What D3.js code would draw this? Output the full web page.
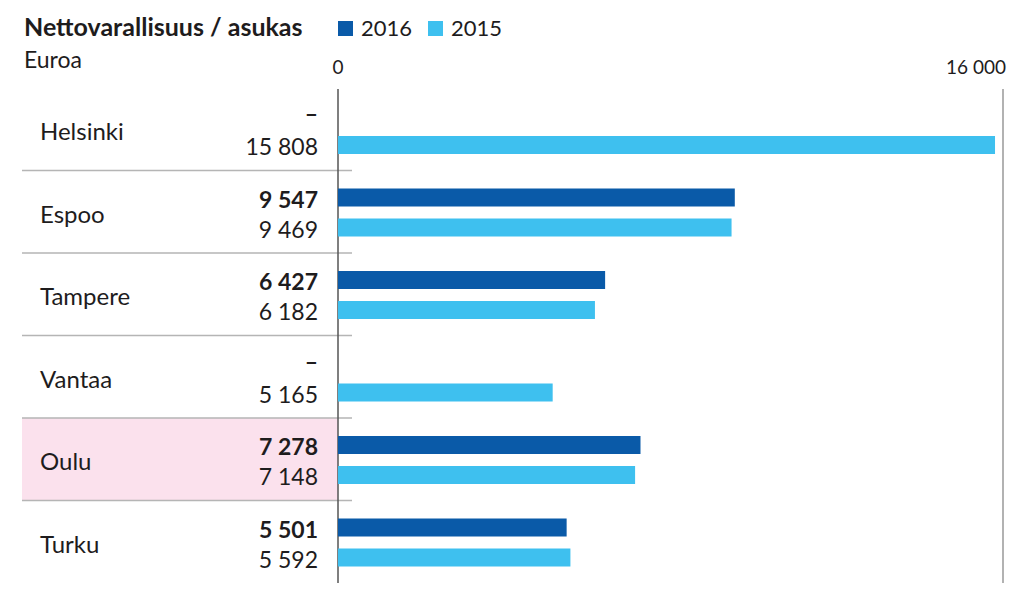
<!DOCTYPE html>
<html><head><meta charset="utf-8">
<script src="https://cdn.jsdelivr.net/npm/d3@7"></script>
<style>body{margin:0;background:#fff}svg{display:block}text{font-family:Lato,"Open Sans",sans-serif;fill:#1e1c1d}</style>
</head><body>
<script>
const cities = ["Helsinki","Espoo","Tampere","Vantaa","Oulu","Turku"];
const values2016 = [null,9547,6427,null,7278,5501];
const values2015 = [15808,9469,6182,5165,7148,5592];
const seriesNames = ["2016","2015"];
const tickValues = [0,16000];
const tickLabels = ["0","16 000"];
const highlighted = "Oulu";

const W=1024,H=597;
const svg=d3.select("body").append("svg").attr("width",W).attr("height",H);
const x=d3.scaleLinear().domain([0,16000]).range([338,1003]);
const y=d3.scaleBand().domain(cities).range([88,583]);
const colors={"2016":"#0a5aa8","2015":"#3ec0ef"};
const fmt=v=>v==null?"–":d3.format(",")(v).replace(/,/g," ");

// highlight
svg.append("rect").attr("x",22).attr("width",x(0)-22)
  .attr("y",y(highlighted)).attr("height",y.bandwidth()).attr("fill","#fbe1ed");

// separators
svg.selectAll("line.sep").data(cities.slice(1)).join("line")
  .attr("x1",22).attr("x2",352).attr("y1",d=>y(d)).attr("y2",d=>y(d))
  .attr("stroke","#b5b5b5").attr("stroke-width",1.5);

// axis lines
svg.append("line").attr("x1",x(0)).attr("x2",x(0)).attr("y1",89).attr("y2",583).attr("stroke","#555").attr("stroke-width",1.5);
svg.append("line").attr("x1",x(16000)).attr("x2",x(16000)).attr("y1",89).attr("y2",583).attr("stroke","#999").attr("stroke-width",1.5);

// ticks labels
svg.selectAll("text.tick").data(tickValues).join("text")
  .attr("x",(d,i)=>i==0?x(d):x(d)+3).attr("y",74)
  .attr("text-anchor",(d,i)=>i==0?"middle":"end")
  .attr("font-size",19).text((d,i)=>tickLabels[i]);

// bars
const rows=cities.map((c,i)=>({c,v16:values2016[i],v15:values2015[i]}));
const g=svg.selectAll("g.row").data(rows).join("g").attr("transform",d=>`translate(0,${y(d.c)})`);
g.filter(d=>d.v16!=null).append("rect").attr("x",x(0)).attr("y",18).attr("height",18)
  .attr("width",d=>x(d.v16)-x(0)).attr("fill",colors["2016"]);
g.append("rect").attr("x",x(0)).attr("y",48).attr("height",18)
  .attr("width",d=>x(d.v15)-x(0)).attr("fill",colors["2015"]);
g.append("text").attr("x",40).attr("y",52).attr("font-size",24).text(d=>d.c);
g.append("text").attr("x",318).attr("y",d=>d.v16==null?34:37).attr("text-anchor","end")
  .attr("font-size",23).attr("font-weight","bold").text(d=>fmt(d.v16));
g.append("text").attr("x",318).attr("y",67).attr("text-anchor","end")
  .attr("font-size",23).text(d=>fmt(d.v15));

// title
svg.append("text").attr("x",24).attr("y",36).attr("font-size",25).attr("font-weight","bold")
  .text("Nettovarallisuus / asukas");
svg.append("text").attr("x",24).attr("y",68).attr("font-size",23).text("Euroa");

// legend
const lg=svg.selectAll("g.leg").data(seriesNames).join("g")
  .attr("transform",(d,i)=>`translate(${338+i*90},21)`);
lg.append("rect").attr("width",15).attr("height",15).attr("fill",d=>colors[d]);
lg.append("text").attr("x",23).attr("y",15).attr("font-size",22).text(d=>d);
</script>
</body></html>
